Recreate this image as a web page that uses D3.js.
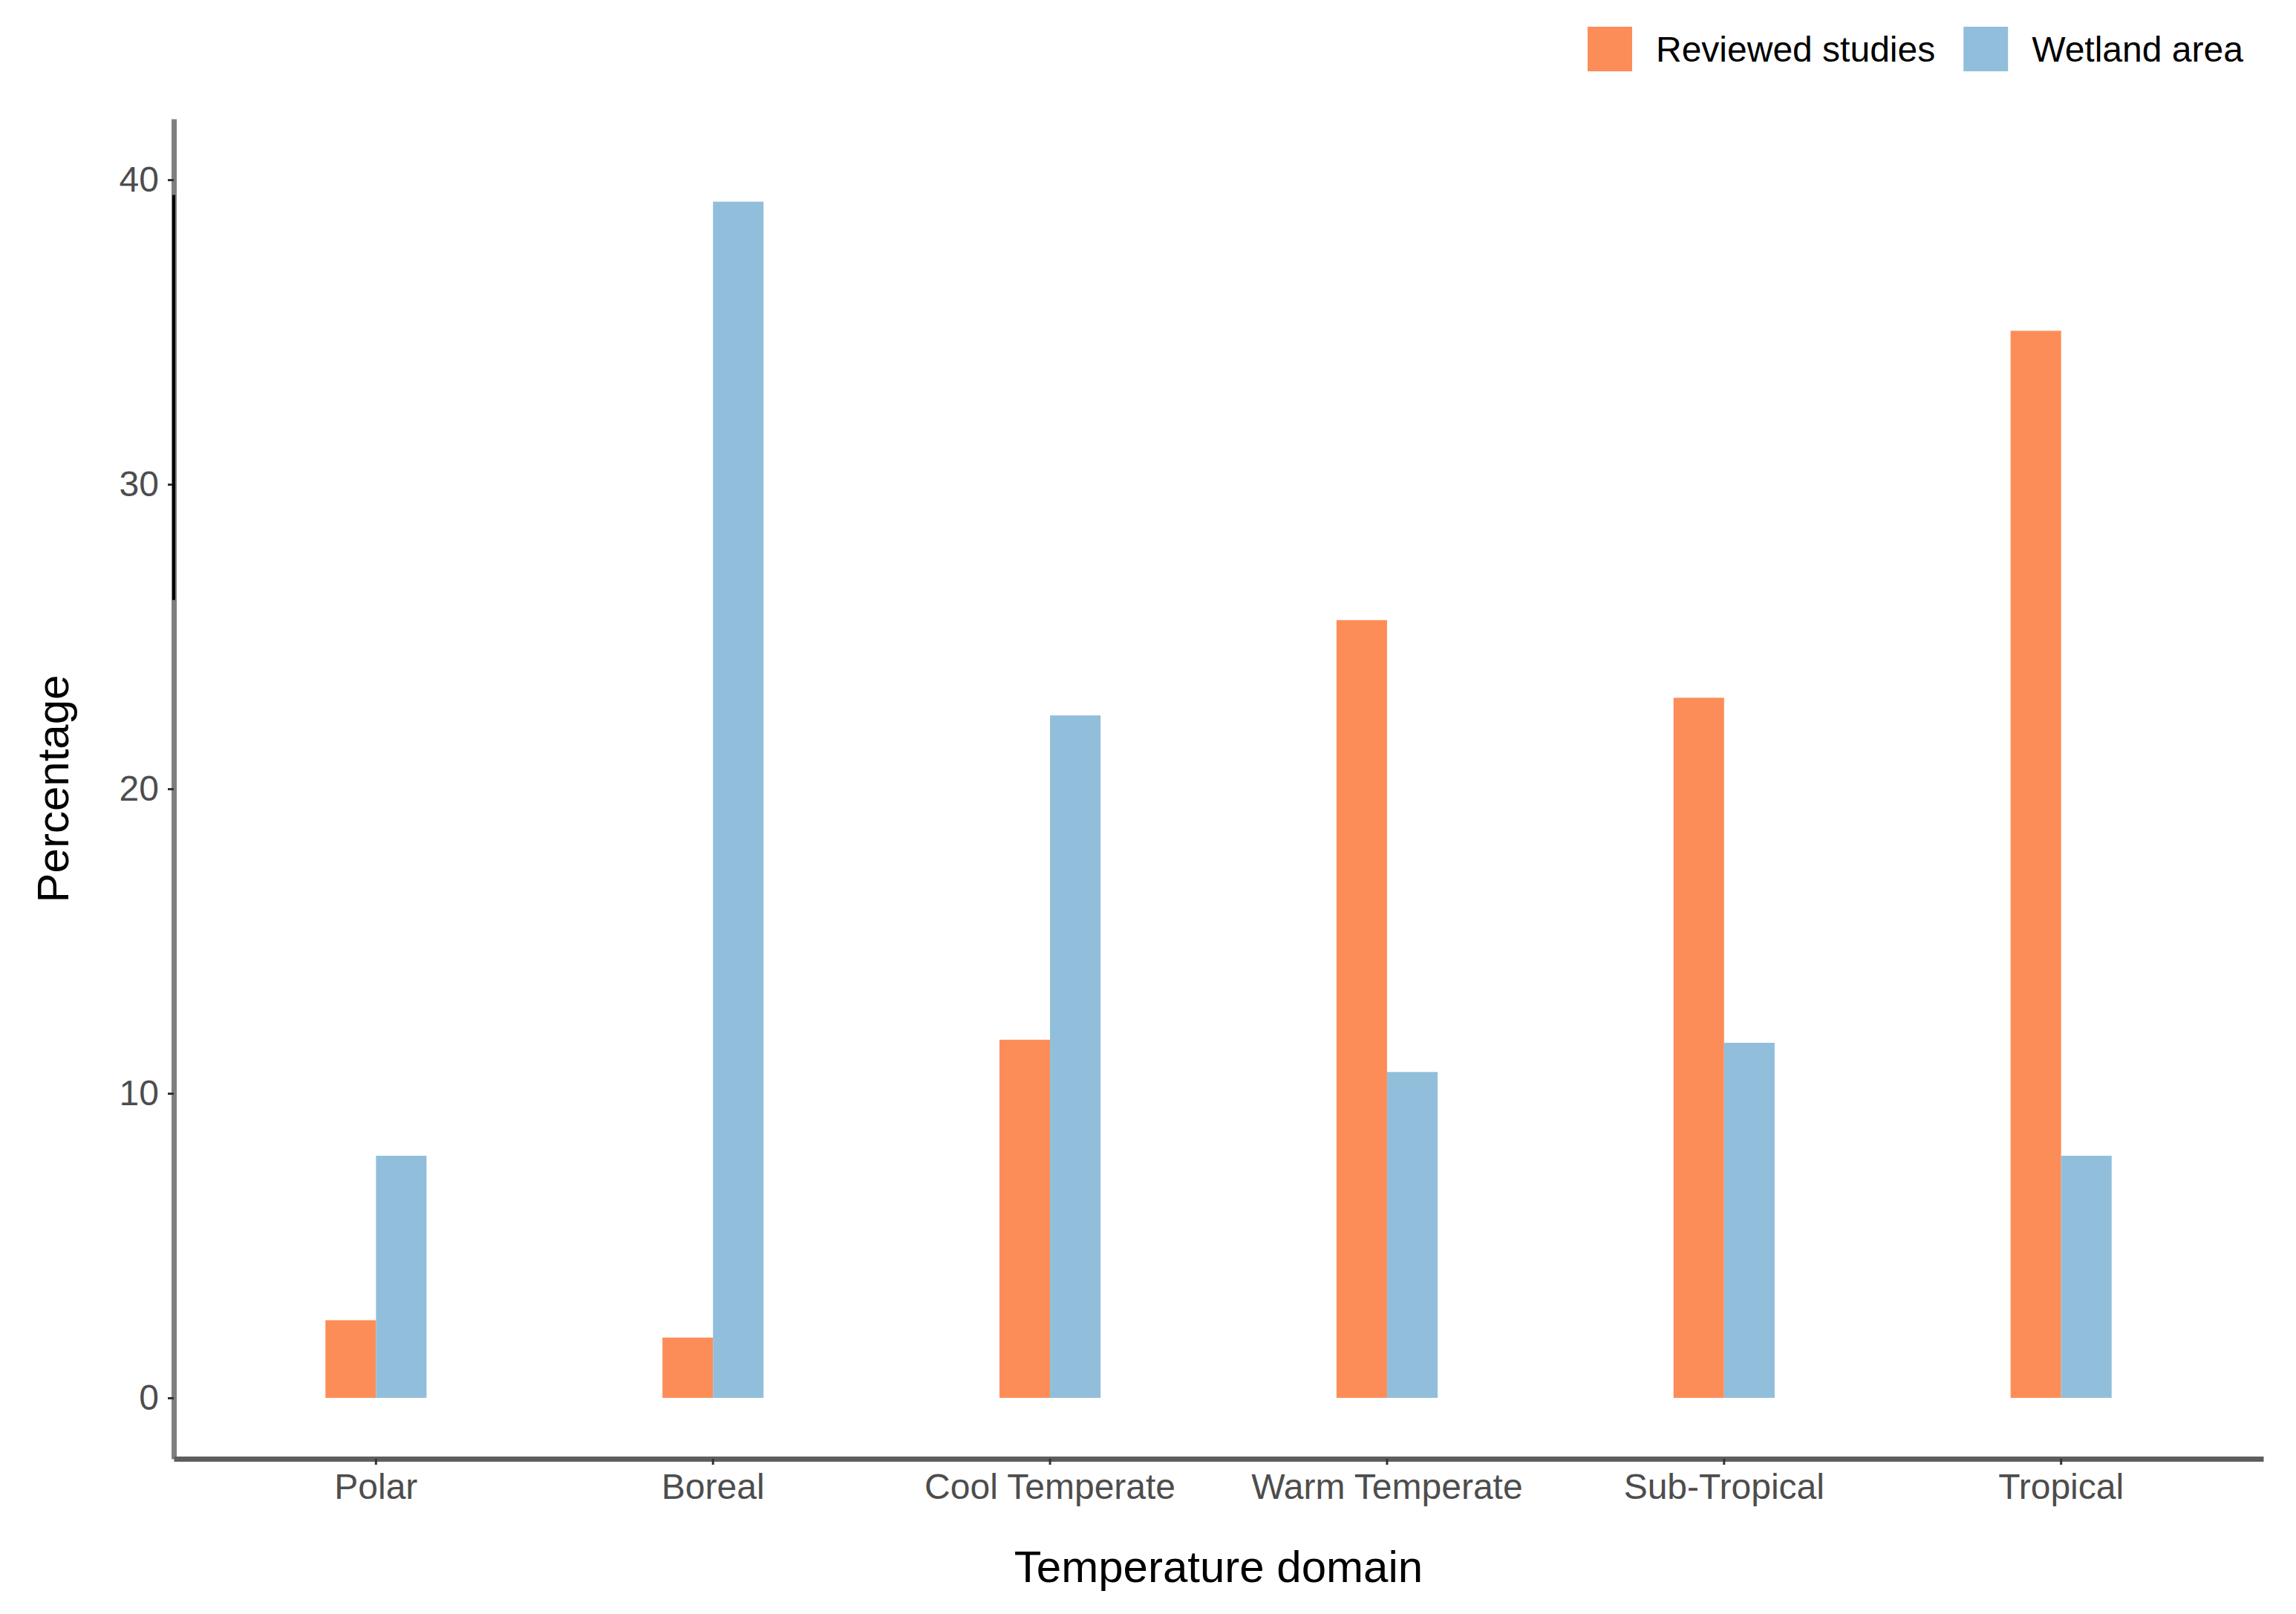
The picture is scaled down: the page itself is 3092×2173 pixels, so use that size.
<!DOCTYPE html>
<html>
<head>
<meta charset="utf-8">
<script src="https://cdn.jsdelivr.net/npm/d3@7"></script>
<style>
  body { margin: 0; background: #fff; }
  text { font-family: "Liberation Sans", Arial, sans-serif; }
</style>
</head>
<body>
<div id="chart"></div>
<script>
// Data
var domains = ["Polar", "Boreal", "Cool Temperate", "Warm Temperate", "Sub-Tropical", "Tropical"];
var series = ["Reviewed studies", "Wetland area"];
var reviewedStudies = [2.55, 1.98, 11.76, 25.54, 22.99, 35.04];
var wetlandArea = [7.95, 39.28, 22.41, 10.70, 11.66, 7.95];
var yTicks = [0, 10, 20, 30, 40];
var colors = ["#FC8D59", "#91BFDB"];

var width = 3092, height = 2173;
var plotLeft = 234, plotRight = 3048, plotTop = 160, plotBottom = 1964;

var rows = [];
domains.forEach(function(d, i) {
	rows.push({ domain: d, series: series[0], value: reviewedStudies[i] });
	rows.push({ domain: d, series: series[1], value: wetlandArea[i] });
});

var svg = d3.select("#chart")
	.append("svg")
	.attr("width", width)
	.attr("height", height);

// Scales
var x = d3.scaleBand()
	.domain(domains)
	.range([plotLeft, plotRight])
	.paddingInner(0)
	.paddingOuter(0.1);

var groupWidth = x.bandwidth() * 0.3;
var x1 = d3.scaleBand()
	.domain(series)
	.range([0, groupWidth]);

var y = d3.scaleLinear()
	.domain([-2, 42])
	.range([plotBottom, plotTop]);

var color = d3.scaleOrdinal().domain(series).range(colors);

// Bars
svg.selectAll(".bar")
	.data(rows)
	.enter()
	.append("rect")
	.attr("class", "bar")
	.attr("x", function(d) { return x(d.domain) + x.bandwidth() / 2 - groupWidth / 2 + x1(d.series); })
	.attr("y", function(d) { return y(d.value); })
	.attr("width", x1.bandwidth())
	.attr("height", function(d) { return y(0) - y(d.value); })
	.attr("fill", function(d) { return color(d.series); });

// Y axis
var yAxis = svg.append("g")
	.attr("transform", "translate(" + plotLeft + ",0)")
	.call(d3.axisLeft(y).tickValues(yTicks).tickSize(8).tickSizeOuter(0).tickPadding(12));
yAxis.select(".domain").attr("stroke", "#7f7f7f").attr("stroke-width", 7);
yAxis.selectAll(".tick line").attr("stroke", "#333").attr("stroke-width", 3);
yAxis.selectAll(".tick text").attr("font-size", 48).attr("fill", "#4d4d4d")
	.style("font-family", "'Liberation Sans', Arial, sans-serif");

// the darker stretch seen on the left axis line
svg.append("line")
	.attr("x1", plotLeft).attr("x2", plotLeft)
	.attr("y1", y(39.5)).attr("y2", y(26.2))
	.attr("stroke", "#000")
	.attr("stroke-width", 4);

// X axis
var xAxis = svg.append("g")
	.attr("transform", "translate(0," + plotBottom + ")")
	.call(d3.axisBottom(x).tickSize(8).tickSizeOuter(0).tickPadding(12));
xAxis.select(".domain").attr("stroke", "#5e5e5e").attr("stroke-width", 7);
xAxis.selectAll(".tick line").attr("stroke", "#333").attr("stroke-width", 3);
xAxis.selectAll(".tick text").attr("font-size", 48).attr("fill", "#4d4d4d")
	.style("font-family", "'Liberation Sans', Arial, sans-serif");

// Axis titles
svg.append("text")
	.attr("x", (plotLeft + plotRight) / 2)
	.attr("y", 2130)
	.attr("text-anchor", "middle")
	.attr("font-size", 60)
	.attr("fill", "#000")
	.text("Temperature domain");

svg.append("text")
	.attr("transform", "translate(92," + ((plotTop + plotBottom) / 2) + ") rotate(-90)")
	.attr("text-anchor", "middle")
	.attr("font-size", 60)
	.attr("fill", "#000")
	.text("Percentage");

// Legend
var legend = svg.append("g").attr("class", "legend");
var lx = 2138;
series.forEach(function(s) {
	legend.append("rect")
		.attr("x", lx).attr("y", 36)
		.attr("width", 60).attr("height", 60)
		.attr("fill", color(s));
	var t = legend.append("text")
		.attr("x", lx + 92)
		.attr("y", 83)
		.attr("font-size", 48)
		.attr("fill", "#000")
		.text(s);
	lx += 92 + t.node().getComputedTextLength() + 38;
});
</script>
</body>
</html>
